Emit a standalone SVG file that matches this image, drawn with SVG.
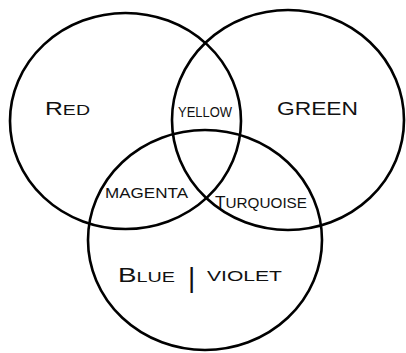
<svg xmlns="http://www.w3.org/2000/svg" width="406" height="353" viewBox="0 0 406 353">
<style>
.c{fill:none;stroke:#000;stroke-width:2.6}
.t{font-family:"Liberation Sans",Arial,sans-serif;fill:#111;}
</style>
<rect width="406" height="353" fill="#fff"/>
<g id="circles">
<g id="red-circle"><ellipse class="c" cx="125.5" cy="121" rx="115.5" ry="108"/></g>
<g id="green-circle"><ellipse class="c" cx="288" cy="120" rx="116" ry="110"/></g>
<g id="blue-circle"><ellipse class="c" cx="205" cy="240" rx="117" ry="110"/></g>
</g>
<g id="labels">
<g id="red"><text class="t" x="45" y="115" font-size="15" textLength="45" lengthAdjust="spacingAndGlyphs"><tspan font-size="19">R</tspan>ED</text></g>
<g id="yellow"><text class="t" x="178" y="117" font-size="15" textLength="54" lengthAdjust="spacingAndGlyphs">YELLOW</text></g>
<g id="green"><text class="t" x="277" y="115" font-size="18" textLength="81" lengthAdjust="spacingAndGlyphs">GREEN</text></g>
<g id="magenta"><text class="t" x="105" y="198" font-size="15" textLength="83" lengthAdjust="spacingAndGlyphs">MAGENTA</text></g>
<g id="turquoise"><text class="t" x="215" y="208" font-size="15" textLength="92" lengthAdjust="spacingAndGlyphs"><tspan font-size="17">T</tspan>URQUOISE</text></g>
<g id="blue-violet">
<text class="t" x="118" y="282" font-size="15" textLength="57" lengthAdjust="spacingAndGlyphs"><tspan font-size="21">B</tspan>LUE</text>
<text class="t" x="188" y="287" font-size="28">|</text>
<text class="t" x="207" y="281" font-size="15" textLength="75" lengthAdjust="spacingAndGlyphs">VIOLET</text>
</g>
</g>
</svg>
